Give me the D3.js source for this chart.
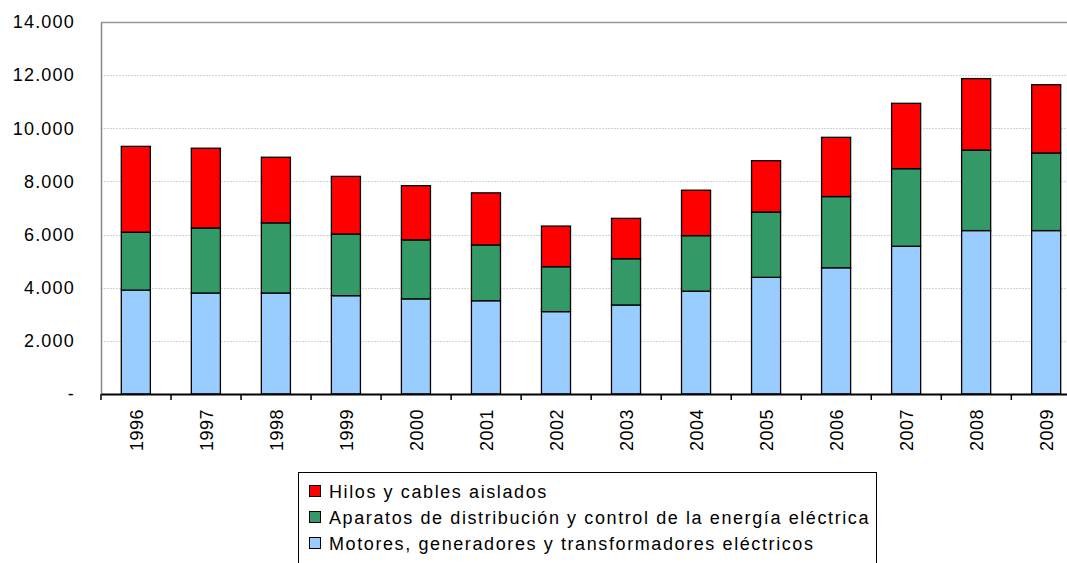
<!DOCTYPE html>
<html>
<head>
<meta charset="utf-8">
<title>Material eléctrico</title>
<style>
body {
    margin: 0px;
    overflow: hidden;
    background: #fff;
}
text {
    font-family: "Liberation Sans", Arial, sans-serif;
}
</style>
<script src="https://cdnjs.cloudflare.com/ajax/libs/d3/7.8.5/d3.min.js"></script>
</head>
<body>
<div id="chart"></div>
<script>

var years = ["1996", "1997", "1998", "1999", "2000", "2001", "2002", "2003", "2004", "2005", "2006", "2007", "2008", "2009"];
var motores = [3910, 3800, 3800, 3700, 3580, 3510, 3100, 3350, 3870, 4390, 4750, 5560, 6150, 6150];
var aparatos = [2180, 2450, 2640, 2320, 2220, 2100, 1690, 1740, 2090, 2460, 2680, 2920, 3030, 2920];
var hilos = [3230, 3000, 2470, 2170, 2040, 1960, 1530, 1520, 1710, 1930, 2230, 2460, 2690, 2570];
var yTicks = [0, 2000, 4000, 6000, 8000, 10000, 12000, 14000];

var seriesNames = [
    "Motores, generadores y transformadores eléctricos",
    "Aparatos de distribución y control de la energía eléctrica",
    "Hilos y cables aislados"
];
var colors = ["#99ccff", "#339966", "#ff0000"];

var width = 1067, height = 563;
var pLeft = 101, pTop = 22, pRight = 1081, pBottom = 394;

var svg = d3.select("#chart").append("svg")
    .attr("width", width)
    .attr("height", height);

var x = d3.scaleBand().domain(years).range([pLeft, pRight]).paddingInner(0.585).paddingOuter(0.29);
var y = d3.scaleLinear().domain([0, 14000]).range([pBottom, pTop]);

// grid
svg.append("g").selectAll("line")
    .data(yTicks.filter(function (d) { return d > 0 && d < 14000; }))
    .enter().append("line")
    .attr("x1", pLeft).attr("x2", pRight)
    .attr("y1", function (d) { return Math.round(y(d)) + 0.5; })
    .attr("y2", function (d) { return Math.round(y(d)) + 0.5; })
    .attr("stroke", "#d4d4d4")
    .attr("stroke-dasharray", "2,1");

// frame top
svg.append("line")
    .attr("x1", pLeft).attr("x2", pRight)
    .attr("y1", pTop + 0.5).attr("y2", pTop + 0.5)
    .attr("stroke", "#999").attr("stroke-width", 1.5);

// stack
var rows = years.map(function (yr, i) {
    return { year: yr, m: motores[i], a: aparatos[i], h: hilos[i] };
});
var stacked = d3.stack().keys(["m", "a", "h"])(rows);

svg.append("g").selectAll("g")
    .data(stacked)
    .enter().append("g")
    .attr("fill", function (d, i) { return colors[i]; })
    .selectAll("rect")
    .data(function (d) { return d; })
    .enter().append("rect")
    .attr("x", function (d) { return x(d.data.year); })
    .attr("y", function (d) { return y(d[1]); })
    .attr("width", x.bandwidth())
    .attr("height", function (d) { return y(d[0]) - y(d[1]); })
    .attr("stroke", "#000")
    .attr("stroke-width", 1.3);

// y axis
var yAxis = d3.axisLeft(y)
    .tickValues(yTicks)
    .tickSize(0)
    .tickPadding(26)
    .tickFormat(function (d) {
        return d === 0 ? "-" : d3.format(",")(d).replace(/,/g, ".");
    });
var gy = svg.append("g").attr("transform", "translate(" + pLeft + ",0)").call(yAxis);
gy.select(".domain").attr("stroke", "#888").attr("stroke-width", 1.5);
gy.selectAll("text").attr("font-size", "18px").attr("fill", "#000")
    .attr("letter-spacing", "1.2px")
    .attr("font-family", "'Liberation Sans', Arial, sans-serif");

// x axis
var xAxis = d3.axisBottom(x).tickSize(0).tickFormat("");
var gx = svg.append("g").attr("transform", "translate(0," + pBottom + ")").call(xAxis);
gx.select(".domain").attr("stroke", "#000").attr("stroke-width", 2);

// tick marks between categories
svg.append("g").selectAll("line")
    .data(d3.range(years.length + 1))
    .enter().append("line")
    .attr("x1", function (i) { return pLeft + i * x.step(); })
    .attr("x2", function (i) { return pLeft + i * x.step(); })
    .attr("y1", pBottom).attr("y2", pBottom + 6)
    .attr("stroke", "#000").attr("stroke-width", 1.5);

// rotated year labels
svg.append("g").selectAll("text")
    .data(years)
    .enter().append("text")
    .attr("transform", function (d) {
        return "translate(" + (x(d) + x.bandwidth() / 2 + 7) + "," + (pBottom + 15) + ") rotate(-90)";
    })
    .attr("text-anchor", "end")
    .attr("font-size", "18px")
    .attr("letter-spacing", "0.5px")
    .text(function (d) { return d; });

// legend
var legend = svg.append("g");
legend.append("rect")
    .attr("x", 298.5).attr("y", 472.5)
    .attr("width", 578).attr("height", 100)
    .attr("fill", "#fff").attr("stroke", "#000");

var legendOrder = [2, 1, 0];
legendOrder.forEach(function (s, i) {
    var ly = 491 + i * 26;
    legend.append("rect")
        .attr("x", 309.5).attr("y", ly - 5.5)
        .attr("width", 11).attr("height", 11)
        .attr("fill", colors[s]).attr("stroke", "#000");
    legend.append("text")
        .attr("x", 329).attr("y", ly + 6.5)
        .attr("font-size", "18px")
        .attr("letter-spacing", "1.6px")
        .text(seriesNames[s]);
});

</script>
</body>
</html>
